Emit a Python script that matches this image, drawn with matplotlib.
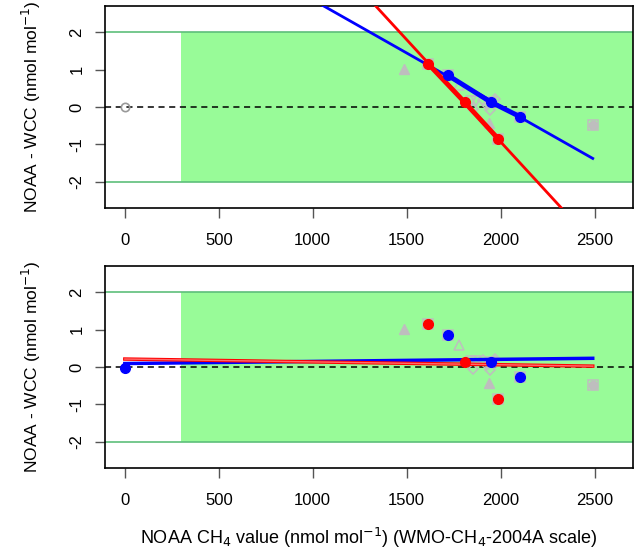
import matplotlib
matplotlib.use("Agg")
import matplotlib.pyplot as plt
import numpy as np

plt.rcParams['font.family'] = ['Liberation Sans', 'DejaVu Sans']
plt.rcParams['axes.unicode_minus'] = False

# x ticks / limits
xticks = [0, 500, 1000, 1500, 2000, 2500]
yticks = [-2, -1, 0, 1, 2]

# highlighted points (same in both panels)
red_x = [1613, 1809, 1986]
red_y = [1.16, 0.12, -0.85]
blue_x = [1718, 1947, 2102]
blue_y = [0.85, 0.13, -0.26]

# zero point
zero_x = [0]
zero_y = [-0.02]

# grey background points by symbol
grey_tri_x = [1485, 1938]
grey_tri_y = [1.02, -0.42]
grey_otri_x = [1778]
grey_otri_y = [0.58]
grey_itri_x = [1844, 1870]
grey_itri_y = [0.17, 0.15]
grey_dia_x = [1853, 1906, 1942, 1968, 1925]
grey_dia_y = [-0.05, 0.18, -0.08, 0.2, 0.05]
grey_sq_x = [1613, 1718, 1947, 2102, 1986, 2493]
grey_sq_y = [1.16, 0.85, 0.13, -0.26, -0.85, -0.49]
grey_circ_x = [2493]
grey_circ_y = [-0.49]

# fitted line endpoints (x = 0 and x = 2490)
fit_x = [0, 2490]
top_blue_fit = [5.72, -1.38]
top_red_fit = [10.01, -3.62]
bot_blue_fit = [0.09, 0.23]
bot_red_fit = [0.21, 0.02]

fig = plt.figure(figsize=(6.4, 5.52), dpi=100)
ax1 = fig.add_axes([0.1645, 0.6237, 0.8245, 0.3653])
ax2 = fig.add_axes([0.1645, 0.1527, 0.8245, 0.3653])

ylab = r'NOAA - WCC (nmol mol$^{-1}$)'
xlab = r'NOAA CH$_4$ value (nmol mol$^{-1}$) (WMO-CH$_4$-2004A scale)'


def setup(ax):
    ax.set_xlim(-104, 2704)
    ax.set_ylim(-2.7, 2.7)
    ax.axhspan(-2, 2, xmin=(300 + 104) / 2808, xmax=1, color='#98FB98', lw=0, zorder=0)
    ax.axhline(2, color='#5DBF7A', lw=1.2, zorder=1)
    ax.axhline(-2, color='#5DBF7A', lw=1.2, zorder=1)
    ax.axhline(0, color='black', lw=1.1, ls=(0, (4, 3)), zorder=2)
    ax.set_xticks(xticks)
    ax.set_yticks(yticks)
    ax.tick_params(direction='out', length=7, width=1, color='#555555', labelsize=12)
    ax.tick_params(axis='x', pad=11)
    ax.tick_params(axis='y', pad=8)
    for lab in ax.get_yticklabels():
        lab.set_rotation(90)
        lab.set_va('center')
    for s in ax.spines.values():
        s.set_linewidth(1.2)
    ax.set_ylabel(ylab, fontsize=12.5)
    ax.yaxis.set_label_coords(-0.118, 0.5)

    gk = dict(color='#BEBEBE', ls='none', zorder=3)
    ax.plot(grey_tri_x, grey_tri_y, marker='^', ms=7, **gk)
    ax.plot(grey_otri_x, grey_otri_y, marker='^', ms=7, mfc='none', mew=1.1, **gk)
    ax.plot(grey_itri_x, grey_itri_y, marker='v', ms=7, mfc='none', mew=1.1, **gk)
    ax.plot(grey_dia_x, grey_dia_y, marker='D', ms=5.5, mfc='none', mew=1.1, **gk)
    ax.plot(grey_sq_x, grey_sq_y, marker='s', ms=7, mfc='none', mew=1.1, **gk)
    ax.plot(grey_circ_x, grey_circ_y, marker='o', ms=6, **gk)


setup(ax1)
setup(ax2)

# top panel
ax1.plot(zero_x, [0], marker='o', ms=6, mfc='none', mec='#999999', mew=1.2, ls='none', zorder=4)
ax1.plot(fit_x, top_blue_fit, color='blue', lw=2, zorder=5)
ax1.plot(fit_x, top_red_fit, color='red', lw=2, zorder=5)
ax1.plot(red_x, red_y, color='red', lw=3.5, marker='o', ms=7, zorder=6)
ax1.plot(blue_x, blue_y, color='blue', lw=3.5, marker='o', ms=7, zorder=6)

# bottom panel
ax2.plot(fit_x, bot_blue_fit, color='blue', lw=2.5, zorder=5)
ax2.plot(fit_x, bot_red_fit, color='red', lw=2.5, zorder=5)
ax2.plot(fit_x, bot_red_fit, color='#ff9999', lw=1, alpha=0.7, zorder=5)
ax2.plot(red_x, red_y, color='red', marker='o', ms=7, ls='none', zorder=6)
ax2.plot(blue_x, blue_y, color='blue', marker='o', ms=7, ls='none', zorder=6)
ax2.plot(zero_x, zero_y, color='blue', marker='o', ms=7, ls='none', zorder=6)
ax2.set_xlabel(xlab, fontsize=13, labelpad=13)

fig.savefig('out.png', dpi=100)
